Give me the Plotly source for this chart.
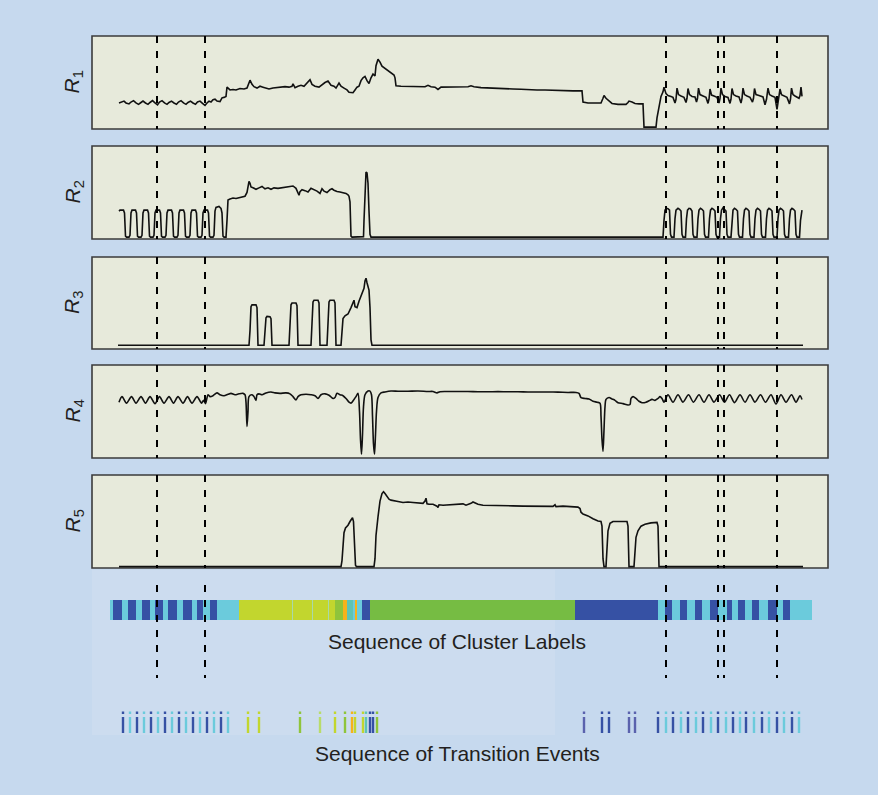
import plotly.graph_objects as go

W, H = 878, 795

# ---------------- data ----------------
event_times = [64, 112, 573, 625, 631, 684]

r1 = [(26,28),(28,28.5),(31,30),(33,28),(36,27),(38,29),(40.5,30.5),(43,28),(45.5,26.5),(48,28.5),(50,30),
      (52.5,28),(55,26.5),(57,28.5),(59.5,30.5),(62,28),(64.5,26),(66.5,29),(69,30.5),(71.5,28),(74,26.5),
      (76,28.5),(78.5,30),(81,28),(83.5,26.5),(85.5,29),(88,30.5),(90.5,28),(93,26.5),(95,28.5),(97.5,30),
      (100,28),(102.5,26.5),(104.5,29),(107,30),(109.5,27.5),(112,25.5),(114,28),(116,30),(118,29),(120,31.5),
      (122,32),(124,30),(127,29.5),(129,33.5),(131,34),(133,35),(134,45),(137,42),(140,42.5),(143,42),
      (147,43.5),(151,43),(154,44),(156,50),(157,52.5),(159,48),(161,45.5),(164,44),(167,46),(170,45),
      (173,44),(176,43),(180,44),(184,44.5),(188,45),(192,45.5),(196,45),(199,46),(200,48.5),(202,44.5),
      (205,46),(208,47),(211,46),(214,49),(217,53),(219,48),(222,46),(226,45),(229,48),(232,50),(235,51.5),
      (238,47),(241,46),(243,44),(246,49.5),(248,46),(251,44),(254,42),(256,39.5),(260,39),(262,42),(264,45),
      (266,46),(268,52),(270,55),(272,56.5),(274,52),(276,49),(278,55),(280,59),(282,57),(283,68),(285,75),
      (287,72),(289,67.5),(292,65),(295,62),(298,60),(301,58),(302,55),(303,46.5),(308,46),(314,46),(320,46),
      (326,45.5),(332,45.5),(335,47),(338,45.5),(342,45),(345,42.5),(348,45),(355,45),(362,44.8),(370,45),
      (375,45.5),(378,46.5),(381,45.5),(388,44.5),(396,44),(404,43.5),(412,43.2),(420,43),(428,42.8),
      (436,42.2),(444,42),(452,42),(460,41.5),(470,41.2),(480,41),(489,41),(490,29),(495,28),(500,28),
      (505,27.5),(508,28),(510,33),(511,36),(513,33),(516,30),(519,27.5),(525,26.5),(530,26.5),(533,26.5),
      (535,28.5),(536,30),(539,29),(542,27.5),(546,27),(549,27.5),(550,27),(551,2),(556,2),(563,2),(564,12),
      (566,25),(567,30),(568,35),(570,40),(571,45),(573,38),(575,36),(578,35),(580,34),(582,28),(583,32),
      (584,44),(585.5,37),(588,35.5),(591,34),(593,28.5),(594,33),(595,43.5),(596.5,37),(599,35),(602,34.5),
      (603.5,29),(604.5,33),(605.5,44),(607,37),(610,35.5),(613,34),(615,27.5),(616,32),(617,43),(618.5,36.5),
      (621,35.5),(624,34),(626,28),(627,33),(628,44),(629.5,37),(632,35),(635,34),(637,27.5),(638,32),
      (639,43.5),(640.5,37),(643,35.5),(646,34.5),(648,28),(649,33),(650,44),(651.5,37),(654,35.5),(657,34),
      (659.5,29),(660.5,33),(661.5,43.5),(663,37),(666,36),(670,34.5),(672,26),(673.5,32),(675,44),
      (676.5,37),(679,35.5),(682,34),(684,21),(685.5,33),(687,43),(688.5,37),(691,35.5),(694,34),(696.5,27),
      (697.5,32),(698.5,44),(700,37),(702,35.5),(704,34.5),(706,33),(707,36),(708,45),(709,35)]

r2 = [(26,30),(27,31),(30.5,31),(31.5,28),(32.5,3),(33.5,2),(36,2),(37,4),
      (38,28),(39,31),(42.5,31),(43.5,28),(44.5,3),(45.5,2),(48,2),(49,4),
      (50,28),(51,31),(54.5,31),(55.5,28),(56.5,3),(57.5,2),(60,2),(61,4),
      (62,28),(63,31),(66.5,31),(67.5,28),(68.5,3),(69.5,2),(72,2),(73,4),
      (74,28),(75,31),(78.5,31),(79.5,28),(80.5,3),(81.5,2),(84,2),(85,4),
      (86,28),(87,31),(90.5,31),(91.5,28),(92.5,3),(93.5,2),(96,2),(97,4),
      (98,28),(99,31),(102.5,31),(103.5,28),(104.5,3),(105.5,2),(108,2),(109,4),
      (110,28),(111,31),(114.5,31),(115.5,28),(116.5,3),(117.5,2),(120,2),(121,4),
      (122,30),(123,34),(126,35),(128,33),(129,28),(130,3),(131,2),(133,2),(134,20),(135,42),(137,43),
      (140,44),(143,43.5),(146,44.5),(149,45),(152,46),(154,50),(156,62),(157,60),(158,56),(160,55),
      (163,53.5),(166,55),(169,56.5),(172,54),(175,55),(178,53.5),(181,55),(185,54.5),(189,55),(193,55.5),
      (197,56),(200,57),(203,54.5),(205,50),(206,47),(207,51),(209,53),(212,52),(215,50.5),(218,54.5),
      (221,53),(224,51.5),(227,49),(229,54),(231,51.5),(234,50),(237,53),(239,54),(241,52.5),(244,51),
      (247,50.5),(250,50),(253,49),(255,47.5),(256,46),(257,40),(258,3),(259,2),(270,2),(270.5,2.5),
      (271,20),(272,55),(273,72),(274,71),(275,60),(276,30),(277,5),(278,2),(570,2),
      (571,20),(572,31),(573.5,33),(575,32.5),(576.5,31),(577.5,5),(578.5,2),(581,2),
      (582,22),(583,31),(585,33),(586.5,32),(588,30),(589,5),(590,2),(592.5,2),
      (593.5,22),(594.5,31),(596,33),(597.5,32.5),(599,30),(600,5),(601,2),(604,2),
      (605,22),(606,31),(607.5,33),(609,32),(610.5,30),(611.5,5),(612.5,2),(615.5,2),
      (616.5,22),(617.5,31),(619,33),(620.5,32),(622,30),(623,5),(624,2),(626.5,2),
      (627.5,22),(628.5,31),(630,33.5),(631.5,32),(633,30),(634,5),(635,2),(638,2),
      (639,22),(640,31),(641.5,33),(643,32),(644.5,30),(645.5,5),(646.5,2),(649.5,2),
      (650.5,22),(651.5,31),(653,33),(654.5,32),(656,30),(657,5),(658,2),(661,2),
      (662,22),(663,31),(664.5,33),(666,32),(667.5,30),(668.5,5),(669.5,2),(672.5,2),
      (673.5,22),(674.5,31),(676,33),(677.5,32),(679,30),(680,5),(681,2),(684,2),
      (685,22),(686,31),(687.5,33),(689,32),(690.5,30),(691.5,5),(692.5,2),(695.5,2),
      (696.5,22),(697.5,31),(699,33),(700.5,32),(702,30),(703,5),(704,2),(706.5,2),
      (707.5,20),(709,31)]

r3 = [(25,4),(156,4),(157,20),(158,46),(159,48),(163,48),(164,45),(165,4),(171,4),(172,20),(173,34),
      (174,35.5),(177,35),(178,33),(179,4),(196,4),(197,25),(198,48),(199,50),(203,50),(204,47),(205,4),
      (218,4),(219,25),(220,51),(221,53),(225,53),(226,50),(227,4),(234,4),(235,25),(236,51),(237,53),
      (241,53),(242,50),(243,4),(248,4),(249,20),(250,33),(252,36),(255,38),(258,45),(260,50),(261,53),
      (262,46),(264,45),(266,52),(268,58),(270,62),(271,66),(272,74),(273,77),(274,72),(275,68),(276,64),
      (277,45),(278,10),(279,4),(710,4)]

r4 = [(26,60),(29,66),(33.5,59),(38.5,66),(43,59),(48,66),(52.5,59),(57,66),(62,58.5),(66.5,66),(71,59),
      (76,66),(80.5,59),(85,66),(90,59),(94.5,66),(99,59),(104,66),(108.5,59),(110.5,62),(112.5,58.5),
      (115,68),(117,66),(120,67),(124,70),(127,68),(131,67),(135,68.5),(138,69.5),(142,68),(146,69),
      (150,69.5),(152,68),(153,60),(154,34),(155,50),(156,66),(159,68),(161,66),(163,62),(164,68),(166,69),
      (169,68),(173,70),(178,71),(182,70),(187,69.5),(193,70),(197,69),(200,66),(203,62.5),(205,66),
      (208,68),(213,68.5),(218,68),(222,67),(225,64),(228,68),(232,69),(236,67.5),(240,64),(242,65),
      (244,69.5),(247,68),(250,67),(253,64),(256,60),(258,59),(261,63),(263,66),(265,69.5),(266.5,50),
      (267.5,20),(268.5,4),(269.5,25),(270.5,55),(272,68),(275,72),(277,72),(278.5,68),(279.5,45),
      (280.5,15),(281.5,4),(282.5,25),(283.5,50),(285,65),(288,70),(292,71),(298,72),(305,71.8),(315,71.8),
      (325,72),(335,71.5),(340,71.5),(344,70),(347,71.3),(355,71.5),(365,71.5),(375,71.5),(385,71.3),
      (395,71.2),(405,71.4),(415,71.2),(425,71.3),(435,71),(445,71),(455,71),(465,70.8),(475,70.5),
      (483,70.5),(486,69.5),(488,65),(492,64),(496,63.5),(500,61),(504,60),(507,59),(508,45),(509,20),
      (510,7),(511,30),(512,55),(513,63),(516,65),(519,63.5),(522,62),(525,59.5),(530,58.5),(535,57),
      (537,57.5),(538,64),(540,66),(543,64),(546,61),(549,59.5),(553,60),(556,61.5),(559,63),(562,62),
      (565,64),(567,66),(569,64),(571,60),(575,68),(580,60),(585,68),(590,60),(595.5,68),(600.5,60),
      (606,68),(611,60),(616,68),(621,60),(626.5,68),(631.5,60),(636.5,68),(641.5,59.5),(647,68),(652,60),
      (657,68),(662,60),(667.5,68),(672.5,60),(678,68),(683,58),(688,68),(693,60),(698.5,68),(703,60),
      (707,67),(709,63)]

r5 = [(26,1.5),(248,1.5),(249,8),(250,25),(251,38),(252.5,43),(255,46),(257,50),(259.5,54),(260.5,50),
      (261.5,20),(262.5,3),(263.5,1.5),(281,1.5),(282,10),(283,35),(285,55),(287,72),(289,80),(290.5,82),
      (292,80),(294,77),(296,74),(298,73),(301,72),(305,71.5),(310,70.5),(315,71),(320,70.5),(325,70),
      (330,69.5),(332,72),(333,75),(334,69),(336,68.5),(340,68.5),(344,66.5),(345,65),(346,68),(350,67.5),
      (355,68),(360,68),(365,68.5),(370,69),(373,67.5),(375,68),(378,69.5),(380,71),(382,70),(385,68.5),
      (390,67.5),(395,67.5),(400,67),(410,67),(420,66.8),(430,66.5),(440,66.5),(450,66.5),(460,66.3),
      (462,68),(463,66),(470,66.5),(480,66),(485,65.5),(487,64),(488,60),(490,58),(495,56),(500,53),
      (505,50.5),(508,50),(509,45),(510,10),(511,1.5),(513,1.5),(514,20),(515,40),(517,48),(520,50),
      (525,50),(530,50),(534,50),(535,45),(536,1.5),(541,1.5),(542,20),(543,33),(545,40),(548,45),
      (552,47),(558,48.5),(564,49),(565,45),(566,1.5),(710,1.5)]

signals = [r1, r2, r3, r4, r5]
signal_names = ["1", "2", "3", "4", "5"]
line_shapes = ["linear", "linear", "linear", "spline", "linear"]

palette = {"D": "#3651a4", "C": "#6bcbdc", "Y": "#c2d62e", "L": "#a9d9a8", "G": "#76bc43",
           "G2": "#8fc43b", "O": "#f6b21b", "T": "#5ec4b4", "P": "#5a62ad", "YL": "#b9dc6a"}

cluster_edges = [17, 20, 29, 35, 43, 49, 57, 62, 70, 75, 84, 90, 99, 104, 110, 117, 124, 146, 199, 200,
                 219, 220, 235, 236, 242, 250, 254, 260, 262, 264, 269, 277, 482, 565, 572, 579, 587,
                 594, 602, 609, 617, 625, 634, 639, 645, 652, 659, 666, 675, 684, 690, 697, 719]
cluster_labels = ["C", "D", "C", "D", "C", "D", "C", "D", "C", "D", "C", "D", "C", "D", "C", "D", "C",
                  "Y", "L", "Y", "L", "Y", "L", "Y", "G2", "O", "T", "C", "O", "C", "D", "G", "D",
                  "C", "D", "C", "D", "C", "D", "C", "D", "C", "D", "C", "D", "C", "D", "C", "D",
                  "C", "D", "C"]

transition_times = [30, 37, 44, 51, 58, 65, 72, 79, 86, 93, 100, 107, 114, 121, 128, 135,
                    155, 166, 207, 227, 242, 252, 259, 262, 270, 273, 277, 280, 284,
                    491, 509, 516, 536, 542,
                    565, 573, 580, 588, 595, 603, 610, 618, 625, 633, 640, 647, 653, 661, 669,
                    676, 684, 691, 699, 706]
transition_labels = ["D", "C"] * 8 + ["Y", "Y", "G2", "YL", "Y", "G2", "O", "Y", "Y", "T", "D", "D", "G2"] \
                    + ["P", "D", "D", "P", "P"] + ["D", "C"] * 10

# ---------------- layout geometry ----------------
X0, X1 = 92, 828
panels_px = [(36, 129), (146, 239), (257, 349), (365, 458), (475, 568)]
bottom_px = (570, 745)
BG = "#c6d9ee"
PANEL_BG = "#e7eadb"
FONT = "Liberation Sans, Arial, sans-serif"

def ydom(top, bot):
    return [1 - bot / H, 1 - top / H]

fig = go.Figure()
layout = dict(width=W, height=H, margin=dict(l=0, r=0, t=0, b=0), paper_bgcolor=BG,
              plot_bgcolor="rgba(0,0,0,0)", showlegend=False, barmode="overlay",
              hovermode=False)
shapes = []
annotations = []

xdom = [X0 / W, X1 / W]
for i, (top, bot) in enumerate(panels_px, start=1):
    sfx = "" if i == 1 else str(i)
    layout["xaxis" + sfx] = dict(domain=xdom, range=[-1, 735], visible=False, anchor="y" + sfx)
    layout["yaxis" + sfx] = dict(domain=ydom(top, bot), range=[0, 100], visible=False, anchor="x" + sfx)
    shapes.append(dict(type="rect", xref="x" + sfx + " domain", yref="y" + sfx + " domain",
                       x0=0, x1=1, y0=0, y1=1, fillcolor=PANEL_BG,
                       line=dict(color="#3b3b3b", width=1.6), layer="below"))
    pts = signals[i - 1]
    fig.add_trace(go.Scatter(x=[p[0] for p in pts], y=[p[1] for p in pts], mode="lines",
                             line=dict(color="#111111", width=1.6, shape=line_shapes[i - 1],
                                       smoothing=0.8),
                             xaxis="x" + sfx, yaxis="y" + sfx))
    dx, dy = [], []
    for t in event_times:
        dx += [t, t, None]
        dy += [100, 0, None]
    fig.add_trace(go.Scatter(x=dx, y=dy, mode="lines",
                             line=dict(color="#000000", width=2, dash="7px,8px"),
                             xaxis="x" + sfx, yaxis="y" + sfx))
    annotations.append(dict(text="<i>R</i><sub>" + signal_names[i - 1] + "</sub>",
                            xref="paper", yref="paper", x=73 / W, y=1 - (top + bot) / 2 / H,
                            textangle=-90, showarrow=False, xanchor="center", yanchor="middle",
                            font=dict(family=FONT, size=21, color="#231f20")))

# bottom axis: cluster bar + transition events
layout["xaxis6"] = dict(domain=xdom, range=[-1, 735], visible=False, anchor="y6")
layout["yaxis6"] = dict(domain=ydom(*bottom_px), range=[bottom_px[1] - bottom_px[0], 0],
                        visible=False, anchor="x6")

shapes.insert(0, dict(type="rect", xref="paper", yref="paper", x0=X0 / W, x1=555 / W,
                      y0=1 - 735 / H, y1=1 - 570 / H, fillcolor="#ccdcef", line=dict(width=0),
                      layer="below"))

starts = cluster_edges[:-1]
lengths = [b - a for a, b in zip(cluster_edges[:-1], cluster_edges[1:])]
fig.add_trace(go.Bar(orientation="h", y=[40] * len(starts), x=lengths, base=starts, width=20,
                     marker=dict(color=[palette[c] for c in cluster_labels], line=dict(width=0)),
                     xaxis="x6", yaxis="y6"))

dx, dy = [], []
for t in event_times:
    dx += [t, t, None]
    dy += [15, 108, None]
fig.add_trace(go.Scatter(x=dx, y=dy, mode="lines",
                         line=dict(color="#000000", width=2, dash="7px,8px"),
                         xaxis="x6", yaxis="y6"))

tcols = [palette[c] for c in transition_labels]
fig.add_trace(go.Bar(x=transition_times, y=[16] * len(transition_times),
                     base=[147] * len(transition_times), width=2.4,
                     marker=dict(color=tcols, line=dict(width=0)), xaxis="x6", yaxis="y6"))
fig.add_trace(go.Bar(x=transition_times, y=[2.5] * len(transition_times),
                     base=[141.5] * len(transition_times), width=2.4,
                     marker=dict(color=tcols, line=dict(width=0)), xaxis="x6", yaxis="y6"))

annotations.append(dict(text="Sequence of Cluster Labels", xref="paper", yref="paper",
                        x=457 / W, y=1 - 641 / H, showarrow=False, xanchor="center", yanchor="middle",
                        font=dict(family=FONT, size=21, color="#231f20")))
annotations.append(dict(text="Sequence of Transition Events", xref="paper", yref="paper",
                        x=457 / W, y=1 - 753 / H, showarrow=False, xanchor="center", yanchor="middle",
                        font=dict(family=FONT, size=21, color="#231f20")))

layout["shapes"] = shapes
layout["annotations"] = annotations
fig.update_layout(**layout)
fig.write_html("out.html", post_script="document.body.style.margin='0';",
               config={"displayModeBar": False, "staticPlot": True})
